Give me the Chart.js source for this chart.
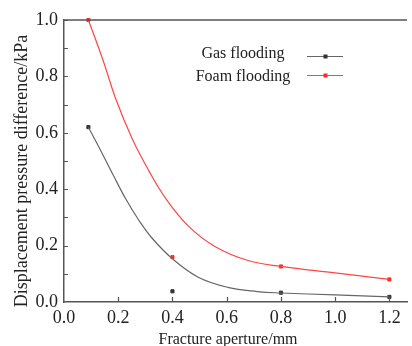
<!DOCTYPE html>
<html>
<head>
<meta charset="utf-8">
<script src="https://cdn.jsdelivr.net/npm/chart.js@4/dist/chart.umd.min.js"></script>
<style>
  body { margin: 0; background: #fff; }
  canvas { display: block; }
</style>
</head>
<body>
<canvas id="c" width="412" height="346"></canvas>
<script>
// measured points
const apertures = [0.09, 0.4, 0.8, 1.2];
const gasValues = [0.62, 0.038, 0.033, 0.018];
const foamValues = [1.0, 0.159, 0.126, 0.08];

// fitted curves
const gasFitX = [0.09, 0.131, 0.179, 0.228, 0.276, 0.325, 0.4, 0.495, 0.604, 0.713, 0.8, 1.0, 1.2];
const gasFitY = [0.62, 0.545, 0.455, 0.365, 0.29, 0.226, 0.153, 0.088, 0.052, 0.037, 0.032, 0.025, 0.018];
const foamFitX = [0.09, 0.143, 0.191, 0.252, 0.313, 0.373, 0.458, 0.555, 0.676, 0.8, 1.0, 1.2];
const foamFitY = [1.0, 0.86, 0.72, 0.578, 0.465, 0.37, 0.27, 0.198, 0.148, 0.126, 0.103, 0.08];

const xTicks = [0, 0.2, 0.4, 0.6, 0.8, 1.0, 1.2];
const yTicks = [0, 0.2, 0.4, 0.6, 0.8, 1.0];
const seriesNames = ['Gas flooding', 'Foam flooding'];
const xTitle = 'Fracture aperture/mm';
const yTitle = 'Displacement pressure difference/kPa';

const serif = '"Liberation Serif", "Times New Roman", serif';
const gasColor = '#666666';
const foamColor = '#ff4545';
const axisColor = '#555555';

const pairs = (xs, ys) => xs.map((x, i) => ({ x: x, y: ys[i] }));

// top frame line, inward ticks, legend and axis titles
const decor = {
  id: 'decor',
  afterDraw(chart) {
    const ctx = chart.ctx;
    const a = chart.chartArea;
    const xs = chart.scales.x, ys = chart.scales.y;
    ctx.save();
    ctx.strokeStyle = axisColor;
    ctx.lineWidth = 1.5;
    ctx.beginPath();
    ctx.moveTo(a.left, a.top);
    ctx.lineTo(a.right, a.top);
    ctx.stroke();

    ctx.lineWidth = 1.2;
    ctx.beginPath();
    for (let v = 0.1; v < 1.0; v += 0.1) {
      const py = Math.round(ys.getPixelForValue(v)) + 0.5;
      ctx.moveTo(a.left, py);
      ctx.lineTo(a.left + 4, py);
    }
    xTicks.forEach(v => {
      if (v === 0) return;
      const px = Math.round(xs.getPixelForValue(v)) + 0.5;
      ctx.moveTo(px, a.bottom);
      ctx.lineTo(px, a.bottom - 5);
    });
    ctx.stroke();

    // legend
    const colors = [gasColor, foamColor];
    const marks = ['#333', '#ff2a2a'];
    const rows = [54, 77];
    ctx.font = '16px ' + serif;
    ctx.textAlign = 'center';
    ctx.textBaseline = 'middle';
    seriesNames.forEach((name, i) => {
      ctx.fillStyle = '#222';
      ctx.fillText(name, 243, rows[i]);
      const ly = i === 0 ? 56.5 : 75.5;
      ctx.strokeStyle = colors[i];
      ctx.lineWidth = 1.2;
      ctx.beginPath();
      ctx.moveTo(307, ly);
      ctx.lineTo(343, ly);
      ctx.stroke();
      ctx.fillStyle = marks[i];
      ctx.fillRect(323.5, ly - 2, 4, 4);
    });

    // axis titles
    ctx.fillStyle = '#222';
    ctx.font = '16px ' + serif;
    ctx.textBaseline = 'alphabetic';
    ctx.fillText(xTitle, 228, 344);
    ctx.translate(27, 171);
    ctx.rotate(-Math.PI / 2);
    ctx.font = '18px ' + serif;
    ctx.fillText(yTitle, 0, 0);
    ctx.restore();
  }
};

function draw() {
  new Chart(document.getElementById('c'), {
    type: 'scatter',
    data: {
      datasets: [
        {
          label: seriesNames[0] + ' fit',
          data: pairs(gasFitX, gasFitY),
          showLine: true,
          borderColor: gasColor,
          borderWidth: 1.2,
          pointRadius: 0,
          tension: 0.4
        },
        {
          label: seriesNames[1] + ' fit',
          data: pairs(foamFitX, foamFitY),
          showLine: true,
          borderColor: foamColor,
          borderWidth: 1.2,
          pointRadius: 0,
          tension: 0.4
        },
        {
          label: seriesNames[0],
          data: pairs(apertures, gasValues),
          pointStyle: 'rect',
          pointRadius: 2.2,
          backgroundColor: '#333',
          borderColor: '#333',
          clip: false
        },
        {
          label: seriesNames[1],
          data: pairs(apertures, foamValues),
          pointStyle: 'rect',
          pointRadius: 2.2,
          backgroundColor: '#ff2a2a',
          borderColor: '#ff2a2a',
          clip: false
        }
      ]
    },
    options: {
      responsive: false,
      animation: false,
      devicePixelRatio: 1,
      layout: { padding: { top: 20, right: 0, left: 0, bottom: 0 } },
      plugins: { legend: { display: false }, tooltip: { enabled: false } },
      scales: {
        x: {
          type: 'linear',
          min: 0,
          max: 1.265,
          afterBuildTicks: s => { s.ticks = xTicks.map(v => ({ value: v })); },
          afterFit: s => { s.height = 44; },
          grid: { display: false, drawTicks: false },
          border: { display: true, color: axisColor, width: 1.5 },
          ticks: {
            padding: 5,
            color: '#222',
            font: { family: serif, size: 18 },
            callback: v => v.toFixed(1)
          }
        },
        y: {
          min: 0,
          max: 1.0,
          afterBuildTicks: s => { s.ticks = yTicks.map(v => ({ value: v })); },
          afterFit: s => { s.width = 64; },
          grid: { display: false, drawTicks: false },
          border: { display: true, color: axisColor, width: 1.5 },
          ticks: {
            padding: 6,
            color: '#222',
            font: { family: serif, size: 18 },
            callback: v => v.toFixed(1)
          }
        }
      }
    },
    plugins: [decor]
  });
}

document.fonts.load('18px "Liberation Serif"').then(draw, draw);
</script>
</body>
</html>
